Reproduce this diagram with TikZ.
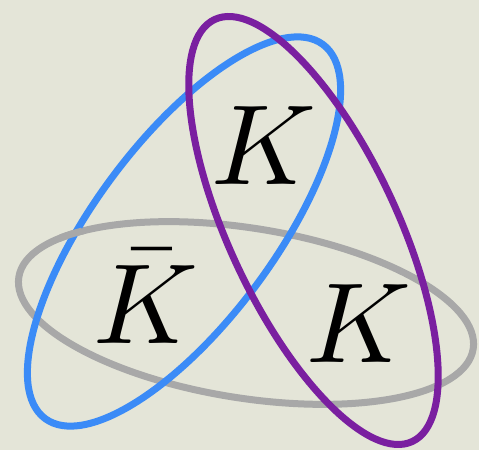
\documentclass[tikz,border=0pt]{standalone}
\usepackage{xcolor}
\usepackage{tikz}
\usetikzlibrary{positioning, calc}
\definecolor{paper}{HTML}{E4E5D8}
\definecolor{ringGray}{HTML}{A8A8A8}
\definecolor{ringBlue}{HTML}{3B8BF7}
\definecolor{ringPurple}{HTML}{7A1FA0}

\begin{document}
\begin{tikzpicture}[x=1pt,y=1pt,ring/.style={line width=7pt},lbl/.style={anchor=base, inner sep=0pt, scale=11.4}]
\fill[paper] (0,0) rectangle (479,450);
\useasboundingbox (0,0) rectangle (479,450);
\coordinate (cGray) at (246,137); \coordinate (cBlue) at (184,218.5); \coordinate (cPurple) at (313.5,219.5);
\draw[ring, draw=ringGray, rotate around={-9:(cGray)}] (cGray) ellipse [x radius=230, y radius=85];
\draw[ring, draw=ringBlue, rotate around={53.4:(cBlue)}] (cBlue) ellipse [x radius=233, y radius=90];
\draw[ring, draw=ringPurple, rotate around={-64.9:(cPurple)}] (cPurple) ellipse [x radius=233, y radius=84];
% gray passes over blue at the upper left crossing
\begin{scope}
\clip (72,213) circle (13);
\draw[ring, draw=ringGray, rotate around={-9:(cGray)}] (cGray) ellipse [x radius=230, y radius=85];
\end{scope}
\node[lbl] (kTop) at (263.5,265) {$K$};
\node[lbl] (kBar) at (146,107) {$\bar{K}$};
\node[lbl] (kRight) at (359,88) {$K$};
\end{tikzpicture}
\end{document}
